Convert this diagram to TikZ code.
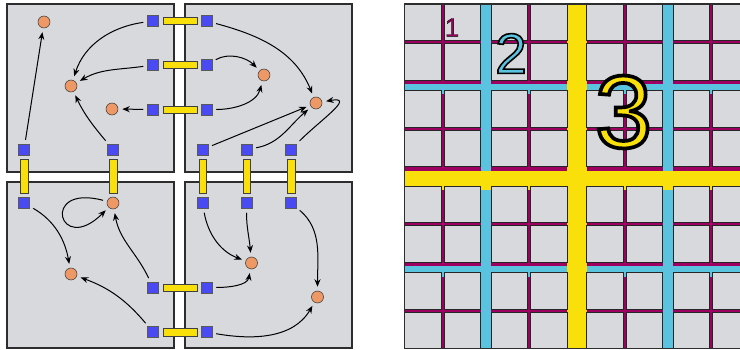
\documentclass[tikz,border=0pt]{standalone}
\usepackage{fontspec}
\setmainfont{Liberation Sans}
\newfontfamily\outlinesmall[FakeBold=1.5]{Liberation Sans}
\newfontfamily\outlinemid[FakeBold=2.8]{Liberation Sans}
\newfontfamily\outlinebig[FakeBold=3.6]{Liberation Sans}
\usepackage{xcolor}
\usepackage{tikz}
\usetikzlibrary{arrows.meta, calc}
\definecolor{panelbg}{RGB}{216,217,220}
\definecolor{panelframe}{RGB}{45,45,45}
\definecolor{portblue}{RGB}{74,74,242}
\definecolor{cellorange}{RGB}{238,152,102}
\definecolor{busyellow}{RGB}{250,224,10}
\definecolor{buscyan}{RGB}{90,196,224}
\definecolor{busmagenta}{RGB}{158,0,98}
% filled digit with a black outline
\newcommand{\outlined}[2]{\special{pdf:bcolor [#1] [0 0 0]}#2\special{pdf:ecolor}}

\begin{document}
\begin{tikzpicture}[x=1pt, y=1pt,
        panel/.style={fill=panelbg, draw=panelframe, line width=1.2pt},
        port/.style={draw=gray!70!black, fill=portblue, rectangle, minimum size=11pt, inner sep=0pt, line width=0.5pt},
        cell/.style={draw=gray!40!black, fill=cellorange, circle, minimum size=12pt, inner sep=0pt, line width=0.5pt},
        bar/.style={fill=busyellow, draw=gray!50!black, line width=0.5pt},
        tile/.style={fill=panelbg, draw=gray!30!black, line width=0.7pt},
        arr/.style={-{Stealth[length=7.5pt, width=6pt]}, line width=1pt, shorten >=4pt, shorten <=4pt},
        digit/.style={inner sep=0pt}
    ]
    \useasboundingbox (0,0) rectangle (740,349);

    % Four panels
    \draw[panel] (7,177) rectangle (174,345);
    \draw[panel] (185,177) rectangle (352,345);
    \draw[panel] (7,1) rectangle (174,167);
    \draw[panel] (185,1) rectangle (352,167);

    % Ports
    \node[port] (ha1) at (153,328) {};
    \node[port] (hb1) at (206.5,328) {};
    \node[port] (ha2) at (153,284) {};
    \node[port] (hb2) at (206.5,284) {};
    \node[port] (ha3) at (153,239.5) {};
    \node[port] (hb3) at (206.5,239.5) {};
    \node[port] (ha4) at (153,61.5) {};
    \node[port] (hb4) at (206.5,61.5) {};
    \node[port] (ha5) at (153,17) {};
    \node[port] (hb5) at (206.5,17) {};
    \node[port] (va1) at (24,199.5) {};
    \node[port] (vb1) at (24,146) {};
    \node[port] (va2) at (113,199.5) {};
    \node[port] (va3) at (202.5,199.5) {};
    \node[port] (vb3) at (202.5,146) {};
    \node[port] (va4) at (246.5,199.5) {};
    \node[port] (vb4) at (246.5,146) {};
    \node[port] (va5) at (291,199.5) {};
    \node[port] (vb5) at (291,146) {};

    % Cells
    \node[cell] (c1) at (44,327) {};
    \node[cell] (c2) at (71,263) {};
    \node[cell] (c3) at (112,240) {};
    \node[cell] (c4) at (264,274) {};
    \node[cell] (c5) at (316,246) {};
    \node[cell] (c6) at (113,146) {};
    \node[cell] (c7) at (71,75) {};
    \node[cell] (c8) at (251.5,86) {};
    \node[cell] (c9) at (317.5,52) {};

    % Links
    \foreach \a/\b in {ha1/hb1, ha2/hb2, ha3/hb3, ha4/hb4, ha5/hb5}
        \draw[bar] ($(\a.east)+(4,3.75)$) rectangle ($(\b.west)+(-4,-3.75)$);
    \foreach \a/\b in {va1/vb1, va2/c6, va3/vb3, va4/vb4, va5/vb5}
        \draw[bar] ($(\a.south)+(-3.75,-4)$) rectangle ($(\b.north)+(3.75,4)$);

    % Arrows top left
    \draw[arr] (va1) -- (c1);
    \draw[arr] (ha1) to[out=188, in=72] (c2);
    \draw[arr] (ha2) to[out=188, in=30] (c2);
    \draw[arr] (ha3) -- (c3);
    \draw[arr] (va2) to[out=130, in=-65] (c2);

    % Arrows top right
    \draw[arr] (hb1) to[out=-15, in=112] (c5);
    \draw[arr] (hb2) to[out=30, in=135] (c4);
    \draw[arr] (hb3) to[out=0, in=-105] (c4);
    \draw[arr] (va3) -- (c5);
    \draw[arr] (va4) to[out=10, in=-140] (c5);
    \draw[arr] (va5) to[out=45, in=10, looseness=1.8] (c5);

    % Arrows bottom left
    \draw[arr] (vb1) to[out=-30, in=100] (c7);
    \draw[arr] (c6) to[out=165, in=225, min distance=70pt] (c6);
    \draw[arr] (ha4) to[out=115, in=-80] (c6);
    \draw[arr] (ha5) to[out=130, in=-20] (c7);

    % Arrows bottom right
    \draw[arr] (vb3) to[out=-80, in=160] (c8);
    \draw[arr] (vb4) to[out=-90, in=95] (c8);
    \draw[arr] (vb5) to[out=-40, in=90] (c9);
    \draw[arr] (hb4) to[out=0, in=-100] (c8);
    \draw[arr] (hb5) to[out=-10, in=-120] (c9);

    % Grid
    \begin{scope}
        \clip (404.5,0.5) rectangle (740,345);
        \fill[busmagenta] (404.5,0.5) rectangle (740,345);
        \foreach \s in {480.5, 662.5}
            \fill[buscyan] (\s,0.5) rectangle ++(10.5,344.5);
        \foreach \s in {254.5, 72.5}
            \fill[buscyan] (404.5,\s) rectangle ++(335.5,10.5);
        \fill[busyellow] (567,0.5) rectangle ++(19.5,344.5);
        \fill[busyellow] (404.5,159) rectangle ++(335.5,19.5);
        \foreach \i in {0,...,7}
            \foreach \j in {0,...,7} {
                \pgfmathsetmacro\px{404.5+mod(\i,2)*39.5+mod(floor(\i/2),2)*86.5+floor(\i/4)*182}
                \pgfmathsetmacro\py{345-mod(\j,2)*39.5-mod(floor(\j/2),2)*86.5-floor(\j/4)*182}
                \draw[tile] (\px,\py) rectangle ++(36.5,-36.5);
            }
    \end{scope}
    \draw[panelframe, line width=1.2pt] (740,345) -- (404.5,345) -- (404.5,0.5) -- (740,0.5);

    % Labels
    \node[digit, font=\outlinesmall\fontsize{26}{26}\selectfont] (one) at (452,321.5) {\outlined{0.62 0 0.384}{1}};
    \node[digit, font=\outlinemid\fontsize{57}{57}\selectfont] (two) at (511,295.5) {\outlined{0.353 0.769 0.878}{2}};
    \node[digit, font=\outlinebig\fontsize{103}{103}\selectfont] (three) at (623.5,237) {\outlined{0.98 0.878 0.039}{3}};

\end{tikzpicture}
\end{document}
